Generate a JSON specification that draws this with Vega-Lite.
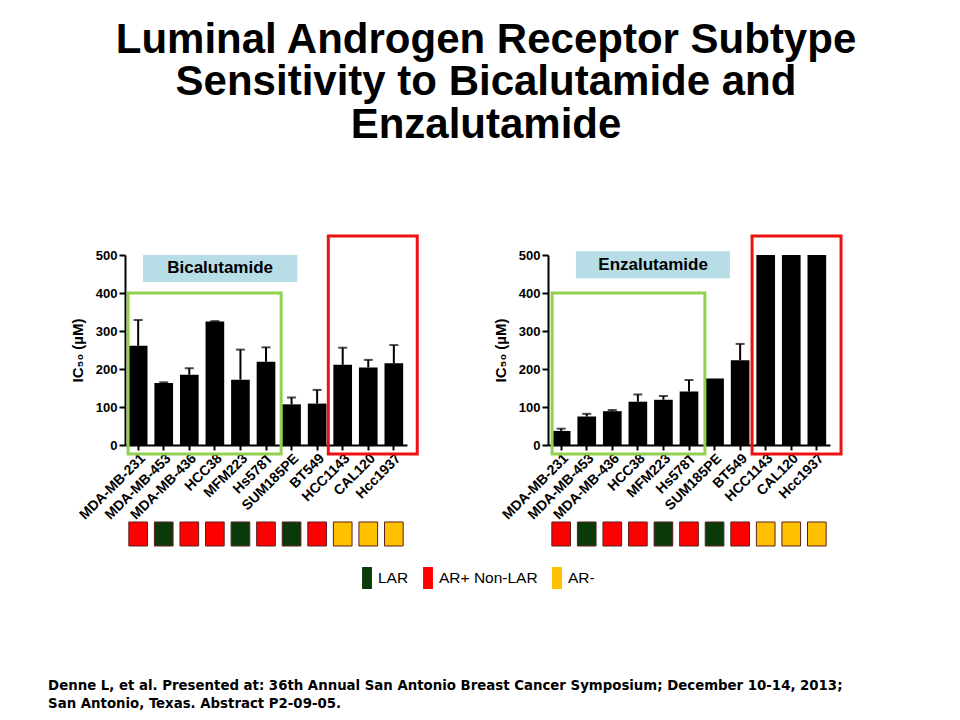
{
  "$schema": "https://vega.github.io/schema/vega-lite/v6.json",
  "padding": {"left": 48, "top": 18, "right": 5, "bottom": 5},
  "bounds": "flush",
  "spacing": 141,
  "background": "white",
  "title": {
    "text": ["Luminal Androgen Receptor Subtype", "Sensitivity to Bicalutamide and", "Enzalutamide"],
    "font": "Liberation Sans",
    "fontSize": 42,
    "fontWeight": "bold",
    "color": "black",
    "lineHeight": 42.5,
    "anchor": "middle",
    "frame": "group",
    "dx": 361,
    "offset": 88
  },
  "datasets": {
    "cells": [
      {"drug": "Bicalutamide", "cell": "MDA-MB-231", "ic50": 261, "err": 329, "subtype": "AR+ Non-LAR"},
      {"drug": "Bicalutamide", "cell": "MDA-MB-453", "ic50": 163, "err": 165, "subtype": "LAR"},
      {"drug": "Bicalutamide", "cell": "MDA-MB-436", "ic50": 185, "err": 202, "subtype": "AR+ Non-LAR"},
      {"drug": "Bicalutamide", "cell": "HCC38", "ic50": 325, "err": 326, "subtype": "AR+ Non-LAR"},
      {"drug": "Bicalutamide", "cell": "MFM223", "ic50": 172, "err": 251, "subtype": "LAR"},
      {"drug": "Bicalutamide", "cell": "Hs578T", "ic50": 219, "err": 257, "subtype": "AR+ Non-LAR"},
      {"drug": "Bicalutamide", "cell": "SUM185PE", "ic50": 107, "err": 125, "subtype": "LAR"},
      {"drug": "Bicalutamide", "cell": "BT549", "ic50": 109, "err": 145, "subtype": "AR+ Non-LAR"},
      {"drug": "Bicalutamide", "cell": "HCC1143", "ic50": 211, "err": 256, "subtype": "AR-"},
      {"drug": "Bicalutamide", "cell": "CAL120", "ic50": 204, "err": 224, "subtype": "AR-"},
      {"drug": "Bicalutamide", "cell": "Hcc1937", "ic50": 215, "err": 263, "subtype": "AR-"},
      {"drug": "Enzalutamide", "cell": "MDA-MB-231", "ic50": 37, "err": 43, "subtype": "AR+ Non-LAR"},
      {"drug": "Enzalutamide", "cell": "MDA-MB-453", "ic50": 75, "err": 82, "subtype": "LAR"},
      {"drug": "Enzalutamide", "cell": "MDA-MB-436", "ic50": 89, "err": 92, "subtype": "AR+ Non-LAR"},
      {"drug": "Enzalutamide", "cell": "HCC38", "ic50": 114, "err": 133, "subtype": "AR+ Non-LAR"},
      {"drug": "Enzalutamide", "cell": "MFM223", "ic50": 119, "err": 129, "subtype": "LAR"},
      {"drug": "Enzalutamide", "cell": "Hs578T", "ic50": 141, "err": 171, "subtype": "AR+ Non-LAR"},
      {"drug": "Enzalutamide", "cell": "SUM185PE", "ic50": 175, "err": null, "subtype": "LAR"},
      {"drug": "Enzalutamide", "cell": "BT549", "ic50": 223, "err": 266, "subtype": "AR+ Non-LAR"},
      {"drug": "Enzalutamide", "cell": "HCC1143", "ic50": 500, "err": null, "subtype": "AR-"},
      {"drug": "Enzalutamide", "cell": "CAL120", "ic50": 500, "err": null, "subtype": "AR-"},
      {"drug": "Enzalutamide", "cell": "Hcc1937", "ic50": 500, "err": null, "subtype": "AR-"}
    ]
  },
  "data": {"name": "cells"},
  "hconcat": [
    {
      "width": 282,
      "height": 190,
      "layer": [
        {
          "transform": [{"filter": "datum.drug === 'Bicalutamide'"}],
          "encoding": {
            "x": {
              "field": "cell", "type": "nominal", "sort": null, "title": null,
              "scale": {"paddingInner": 0.27, "paddingOuter": 0.15},
              "axis": {"labelAngle": -45, "labelAlign": "right", "labelBaseline": "top", "labelPadding": 1}
            }
          },
          "layer": [
            {
              "mark": {"type": "bar", "color": "black"},
              "encoding": {
                "y": {
                  "field": "ic50", "type": "quantitative", "title": "IC₅₀ (µM)",
                  "scale": {"domain": [0, 500], "nice": false},
                  "axis": {"values": [0, 100, 200, 300, 400, 500]}
                }
              }
            },
            {
              "transform": [{"filter": "isValid(datum.err)"}],
              "mark": {"type": "rule", "color": "black", "strokeWidth": 2},
              "encoding": {"y": {"field": "ic50", "type": "quantitative", "title": "IC₅₀ (µM)", "axis": {"values": [0, 100, 200, 300, 400, 500]}}, "y2": {"field": "err"}}
            },
            {
              "transform": [{"filter": "isValid(datum.err)"}],
              "mark": {"type": "tick", "color": "black", "thickness": 2, "size": 9},
              "encoding": {"y": {"field": "err", "type": "quantitative", "title": "IC₅₀ (µM)", "axis": {"values": [0, 100, 200, 300, 400, 500]}}}
            },
            {
              "mark": {"type": "bar", "stroke": "#5a2020", "strokeWidth": 1},
              "encoding": {
                "y": {"datum": -202.6, "type": "quantitative", "title": "IC₅₀ (µM)", "axis": {"values": [0, 100, 200, 300, 400, 500]}},
                "y2": {"datum": -265.8},
                "color": {
                  "field": "subtype", "type": "nominal",
                  "scale": {"domain": ["LAR", "AR+ Non-LAR", "AR-"], "range": ["#0a3a0a", "#ff0000", "#ffc000"]},
                  "legend": {"orient": "none", "legendX": 231, "legendY": 312, "direction": "horizontal", "title": null, "symbolType": "M-0.45,-1H0.45V1H-0.45Z", "symbolSize": 484, "symbolStrokeWidth": 0, "labelFont": "Liberation Sans", "labelFontSize": 15.5, "labelColor": "black", "labelOffset": 0, "columnPadding": 8}
                }
              }
            }
          ]
        },
        {
          "data": {"values": [{"label": "Bicalutamide", "note": "Denne L, et al. Presented at: 36th Annual San Antonio Breast Cancer Symposium; December 10-14, 2013;\nSan Antonio,  Texas. Abstract P2-09-05."}]},
          "layer": [
            {
              "mark": {"type": "rect", "filled": false, "color": "#92d050", "strokeWidth": 3},
              "encoding": {
                "x": {"datum": 0.12, "type": "quantitative", "scale": {"domain": [0, 11], "nice": false, "zero": false}, "axis": null},
                "x2": {"datum": 6.09},
                "y": {"datum": 400, "type": "quantitative", "title": "IC₅₀ (µM)", "axis": {"values": [0, 100, 200, 300, 400, 500]}},
                "y2": {"datum": -24}
              }
            },
            {
              "mark": {"type": "rect", "filled": false, "color": "#ee1111", "strokeWidth": 3},
              "encoding": {
                "x": {"datum": 7.93, "type": "quantitative"},
                "x2": {"datum": 11.4},
                "y": {"datum": 550, "type": "quantitative", "title": "IC₅₀ (µM)"},
                "y2": {"datum": -24}
              }
            },
            {
              "mark": {"type": "rect", "color": "#b7dde6"},
              "encoding": {
                "x": {"datum": 0.7, "type": "quantitative"},
                "x2": {"datum": 6.72},
                "y": {"datum": 500, "type": "quantitative", "title": "IC₅₀ (µM)"},
                "y2": {"datum": 429}
              }
            },
            {
              "mark": {"type": "text", "font": "Liberation Sans", "fontWeight": "bold", "fontSize": 17, "color": "black", "align": "center", "baseline": "middle"},
              "encoding": {
                "x": {"datum": 3.71, "type": "quantitative"},
                "y": {"datum": 464.5, "type": "quantitative", "title": "IC₅₀ (µM)"},
                "text": {"field": "label"}
              }
            },
            {
              "mark": {"type": "text", "font": "'DejaVu Sans Condensed', 'Liberation Sans'", "fontWeight": "bold", "fontSize": 14.8, "color": "black", "align": "left", "baseline": "alphabetic", "lineBreak": "\n", "lineHeight": 18},
              "encoding": {
                "x": {"datum": -3.0, "type": "quantitative"},
                "y": {"datum": -644.7, "type": "quantitative", "title": "IC₅₀ (µM)"},
                "text": {"field": "note"}
              }
            }
          ]
        }
      ],
      "resolve": {"scale": {"x": "independent"}}
    },
    {
      "width": 282,
      "height": 190,
      "layer": [
        {
          "transform": [{"filter": "datum.drug === 'Enzalutamide'"}],
          "encoding": {
            "x": {
              "field": "cell", "type": "nominal", "sort": null, "title": null,
              "scale": {"paddingInner": 0.27, "paddingOuter": 0.15},
              "axis": {"labelAngle": -45, "labelAlign": "right", "labelBaseline": "top", "labelPadding": 1}
            }
          },
          "layer": [
            {
              "mark": {"type": "bar", "color": "black"},
              "encoding": {
                "y": {
                  "field": "ic50", "type": "quantitative", "title": "IC₅₀ (µM)",
                  "scale": {"domain": [0, 500], "nice": false},
                  "axis": {"values": [0, 100, 200, 300, 400, 500]}
                }
              }
            },
            {
              "transform": [{"filter": "isValid(datum.err)"}],
              "mark": {"type": "rule", "color": "black", "strokeWidth": 2},
              "encoding": {"y": {"field": "ic50", "type": "quantitative", "title": "IC₅₀ (µM)", "axis": {"values": [0, 100, 200, 300, 400, 500]}}, "y2": {"field": "err"}}
            },
            {
              "transform": [{"filter": "isValid(datum.err)"}],
              "mark": {"type": "tick", "color": "black", "thickness": 2, "size": 9},
              "encoding": {"y": {"field": "err", "type": "quantitative", "title": "IC₅₀ (µM)", "axis": {"values": [0, 100, 200, 300, 400, 500]}}}
            },
            {
              "mark": {"type": "bar", "stroke": "#5a2020", "strokeWidth": 1},
              "encoding": {
                "y": {"datum": -202.6, "type": "quantitative", "title": "IC₅₀ (µM)", "axis": {"values": [0, 100, 200, 300, 400, 500]}},
                "y2": {"datum": -265.8},
                "color": {"field": "subtype", "type": "nominal"}
              }
            }
          ]
        },
        {
          "data": {"values": [{"label": "Enzalutamide"}]},
          "layer": [
            {
              "mark": {"type": "rect", "filled": false, "color": "#92d050", "strokeWidth": 3},
              "encoding": {
                "x": {"datum": 0.16, "type": "quantitative", "scale": {"domain": [0, 11], "nice": false, "zero": false}, "axis": null},
                "x2": {"datum": 6.12},
                "y": {"datum": 400, "type": "quantitative", "title": "IC₅₀ (µM)", "axis": {"values": [0, 100, 200, 300, 400, 500]}},
                "y2": {"datum": -24}
              }
            },
            {
              "mark": {"type": "rect", "filled": false, "color": "#ee1111", "strokeWidth": 3},
              "encoding": {
                "x": {"datum": 7.96, "type": "quantitative"},
                "x2": {"datum": 11.43},
                "y": {"datum": 550, "type": "quantitative", "title": "IC₅₀ (µM)"},
                "y2": {"datum": -24}
              }
            },
            {
              "mark": {"type": "rect", "color": "#b7dde6"},
              "encoding": {
                "x": {"datum": 1.09, "type": "quantitative"},
                "x2": {"datum": 7.1},
                "y": {"datum": 510, "type": "quantitative", "title": "IC₅₀ (µM)"},
                "y2": {"datum": 439}
              }
            },
            {
              "mark": {"type": "text", "font": "Liberation Sans", "fontWeight": "bold", "fontSize": 17, "color": "black", "align": "center", "baseline": "middle"},
              "encoding": {
                "x": {"datum": 4.1, "type": "quantitative"},
                "y": {"datum": 474.5, "type": "quantitative", "title": "IC₅₀ (µM)"},
                "text": {"field": "label"}
              }
            }
          ]
        }
      ],
      "resolve": {"scale": {"x": "independent"}}
    }
  ],
  "config": {
    "view": {"stroke": null},
    "font": "Liberation Sans",
    "axis": {
      "grid": false,
      "labelFont": "Liberation Sans", "labelFontWeight": "bold", "labelFontSize": 13, "labelColor": "black",
      "labelOverlap": false, "labelFlush": false,
      "domainColor": "black", "domainWidth": 2, "tickColor": "black", "tickWidth": 2,
      "titleFont": "Liberation Sans", "titleFontSize": 15, "titleFontWeight": "bold", "titleColor": "black"
    },
    "axisX": {"tickSize": 5, "labelFontSize": 14},
    "axisY": {"tickSize": 6, "tickCount": 6, "titlePadding": 10}
  }
}
